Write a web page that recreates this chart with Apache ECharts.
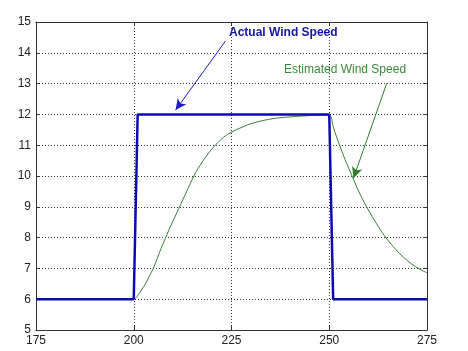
<!DOCTYPE html>
<html>
<head>
<meta charset="utf-8">
<script src="https://cdn.jsdelivr.net/npm/echarts@6/dist/echarts.min.js"></script>
<style>html,body{margin:0;padding:0;background:#fff;}#c{width:468px;height:351px;}</style>
</head>
<body>
<div id="c"></div>
<script>
// Actual wind speed (step input)
var actualX = [175, 200, 201, 250, 251, 275];
var actualY = [6, 6, 12, 12, 6, 6];

// Estimated wind speed
var estX = [175, 200, 201, 202, 203, 204, 205, 206, 207, 208, 209, 210, 211, 212, 213, 214, 215, 216, 217, 218, 219, 220, 221, 222, 223, 224, 226, 228, 230, 233, 236, 240, 245, 250,
            251, 252, 253, 254, 255, 256, 257, 258, 259, 260, 262, 264, 266, 268, 270, 272, 274, 275];
var estY = [6, 6, 6.12, 6.3, 6.5, 6.75, 7.0, 7.32, 7.65, 7.95, 8.25, 8.53, 8.8, 9.08, 9.35, 9.63, 9.9, 10.15, 10.35, 10.55, 10.72, 10.88, 11.02, 11.15, 11.26, 11.35, 11.49, 11.6, 11.7, 11.8, 11.87, 11.92, 11.96, 11.98,
            11.6, 11.22, 10.88, 10.55, 10.25, 9.95, 9.65, 9.38, 9.13, 8.9, 8.47, 8.08, 7.76, 7.48, 7.25, 7.06, 6.92, 6.86];

var xTicks = [175, 200, 225, 250, 275];
var yTicks = [5, 6, 7, 8, 9, 10, 11, 12, 13, 14, 15];

// annotation arrows (data coordinates: start -> end)
var actualArrow = [[223.5, 14.39], [210.7, 12.14]];
var estArrow = [[264.7, 13.01], [256.2, 9.93]];
var actualLabel = 'Actual Wind Speed';
var estLabel = 'Estimated Wind Speed';

function pairs(xs, ys) { return xs.map(function (x, i) { return [x, ys[i]]; }); }

var blue = '#0b0bb4';
var green = '#3d7d3d';
var axisCol = '#333';

var chart = echarts.init(document.getElementById('c'), null, { renderer: 'canvas' });
var commonY = {
  type: 'value', min: yTicks[0], max: yTicks[yTicks.length - 1], interval: 1
};
var commonX = {
  type: 'value', min: xTicks[0], max: xTicks[xTicks.length - 1], interval: 25
};
chart.setOption({
  backgroundColor: '#fff',
  animation: false,
  grid: { left: 36, top: 22, right: 41, bottom: 21, show: false },
  xAxis: [
    Object.assign({}, commonX, {
      position: 'bottom',
      axisLine: { show: true, onZero: false, lineStyle: { color: axisCol, width: 1 } },
      axisTick: { show: true, inside: true, length: 4, lineStyle: { color: axisCol } },
      axisLabel: { color: '#222', fontFamily: 'Liberation Sans, Arial', fontSize: 12, margin: 5 },
      splitLine: { show: true, lineStyle: { color: '#333', type: [1, 2], width: 1 } }
    }),
    Object.assign({}, commonX, {
      position: 'top',
      axisLine: { show: true, onZero: false, lineStyle: { color: axisCol, width: 1 } },
      axisTick: { show: true, inside: true, length: 4, lineStyle: { color: axisCol } },
      axisLabel: { show: false },
      splitLine: { show: false }
    })
  ],
  yAxis: [
    Object.assign({}, commonY, {
      position: 'left',
      axisLine: { show: true, onZero: false, lineStyle: { color: axisCol, width: 1 } },
      axisTick: { show: true, inside: true, length: 4, lineStyle: { color: axisCol } },
      axisLabel: { color: '#222', fontFamily: 'Liberation Sans, Arial', fontSize: 12, margin: 5 },
      splitLine: { show: true, lineStyle: { color: '#333', type: [1, 2], width: 1 } }
    }),
    Object.assign({}, commonY, {
      position: 'right',
      axisLine: { show: true, onZero: false, lineStyle: { color: axisCol, width: 1 } },
      axisTick: { show: true, inside: true, length: 4, lineStyle: { color: axisCol } },
      axisLabel: { show: false },
      splitLine: { show: false }
    })
  ],
  series: [
    {
      name: 'Estimated Wind Speed', type: 'line', xAxisIndex: 0, yAxisIndex: 0,
      data: pairs(estX, estY), showSymbol: false, smooth: 0.3,
      lineStyle: { color: green, width: 1 }, z: 3,
      markLine: {
        silent: true, symbol: ['none', 'arrow'], symbolSize: [8, 11],
        label: { show: false },
        lineStyle: { color: '#2e7d2e', width: 1, type: 'solid' },
        data: [[{ coord: estArrow[0] }, { coord: estArrow[1] }]]
      }
    },
    {
      name: 'Actual Wind Speed', type: 'line', xAxisIndex: 0, yAxisIndex: 0,
      data: pairs(actualX, actualY), showSymbol: false,
      lineStyle: { color: blue, width: 2.5 }, z: 4,
      markLine: {
        silent: true, symbol: ['none', 'arrow'], symbolSize: [8, 11],
        label: { show: false },
        lineStyle: { color: '#1d1dc0', width: 1, type: 'solid' },
        data: [[{ coord: actualArrow[0] }, { coord: actualArrow[1] }]]
      }
    }
  ],
  graphic: [
    { type: 'text', left: 229, top: 27, style: { text: actualLabel, fill: '#1515a8', font: 'bold 12px "Liberation Sans", Arial' } },
    { type: 'text', left: 284, top: 64, style: { text: estLabel, fill: '#3a883a', font: '12px "Liberation Sans", Arial' } }
  ]
});
</script>
</body>
</html>
